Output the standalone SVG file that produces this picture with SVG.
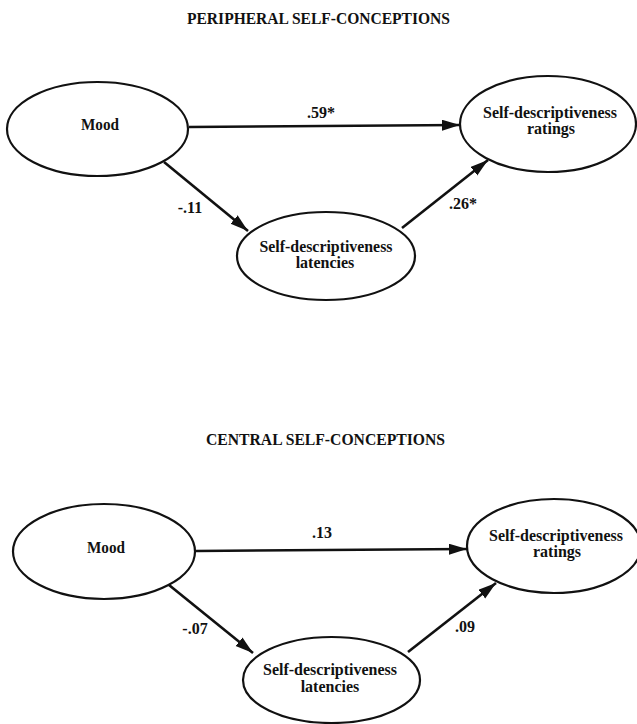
<svg xmlns="http://www.w3.org/2000/svg" width="637" height="724" viewBox="0 0 637 724">
<style>
text{font-family:"Liberation Serif","Times New Roman",serif;font-weight:bold;fill:#111;text-anchor:middle}
.t{font-size:16px}
.n{font-size:16px}
.l{font-size:16px}
ellipse{fill:#fff;stroke:#111;stroke-width:2.2}
.c line{stroke:#111;stroke-width:2.6;marker-end:url(#ah)}
</style>
<defs>
<marker id="ah" markerUnits="userSpaceOnUse" markerWidth="19" markerHeight="12" refX="18" refY="5.5" orient="auto" viewBox="0 0 19 12">
<path d="M0,0 L18,5.5 L0,11 z" fill="#111"/>
</marker>
</defs>
<rect width="637" height="724" fill="#fff"/>

<text class="t" x="318.5" y="24" textLength="263" lengthAdjust="spacingAndGlyphs">PERIPHERAL SELF-CONCEPTIONS</text>

<g class="c" id="connectors-top">
<line x1="189" y1="127" x2="460" y2="125"/>
<line x1="164" y1="162" x2="248" y2="231"/>
<line x1="402" y1="228" x2="488" y2="160"/>
</g>
<g id="labels-top">
<text class="l" x="321" y="118">.59*</text>
<text class="l" x="190" y="213">-.11</text>
<text class="l" x="463" y="209">.26*</text>
</g>

<g id="mood-top">
<ellipse cx="97.5" cy="129" rx="90.5" ry="47"/>
<text class="n" x="100" y="130" textLength="38" lengthAdjust="spacingAndGlyphs">Mood</text>
</g>
<g id="ratings-top">
<ellipse cx="548" cy="124" rx="88" ry="48"/>
<text class="n" x="550" y="118" textLength="134" lengthAdjust="spacingAndGlyphs">Self-descriptiveness</text>
<text class="n" x="551" y="134">ratings</text>
</g>
<g id="latencies-top">
<ellipse cx="326" cy="256" rx="89" ry="44"/>
<text class="n" x="326" y="252" textLength="133" lengthAdjust="spacingAndGlyphs">Self-descriptiveness</text>
<text class="n" x="325" y="268">latencies</text>
</g>

<text class="t" x="325.5" y="445" textLength="239" lengthAdjust="spacingAndGlyphs">CENTRAL SELF-CONCEPTIONS</text>

<g class="c" id="connectors-bottom">
<line x1="196" y1="551" x2="467" y2="549"/>
<line x1="169" y1="585" x2="253" y2="653"/>
<line x1="408" y1="652" x2="496" y2="583"/>
</g>
<g id="labels-bottom">
<text class="l" x="322" y="538">.13</text>
<text class="l" x="195" y="634">-.07</text>
<text class="l" x="465" y="632">.09</text>
</g>

<g id="mood-bottom">
<ellipse cx="104" cy="551.5" rx="91" ry="47.5"/>
<text class="n" x="106" y="553" textLength="38" lengthAdjust="spacingAndGlyphs">Mood</text>
</g>
<g id="ratings-bottom">
<ellipse cx="554" cy="546" rx="87" ry="47"/>
<text class="n" x="556" y="541" textLength="134" lengthAdjust="spacingAndGlyphs">Self-descriptiveness</text>
<text class="n" x="557" y="557">ratings</text>
</g>
<g id="latencies-bottom">
<ellipse cx="331.5" cy="680" rx="88.5" ry="43"/>
<text class="n" x="330" y="675" textLength="134" lengthAdjust="spacingAndGlyphs">Self-descriptiveness</text>
<text class="n" x="330" y="692">latencies</text>
</g>
</svg>
